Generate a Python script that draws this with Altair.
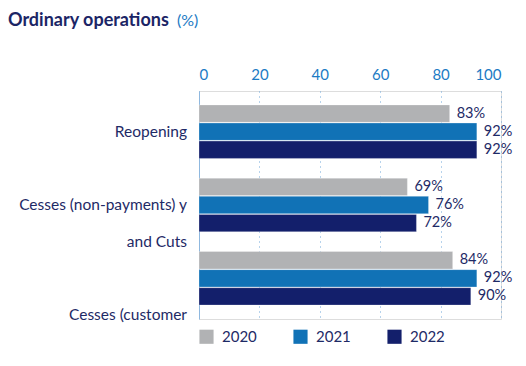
import altair as alt
import pandas as pd

categories = ["Reopening", "Cesses (non-payments) y and Cuts", "Cesses (customer"]
years = ["2020", "2021", "2022"]
values_2020 = [83, 69, 84]
values_2021 = [92, 76, 92]
values_2022 = [92, 72, 90]
label_line1 = ["Reopening", "Cesses (non-payments) y", ""]
label_line2 = ["", "and Cuts", "Cesses (customer"]
x_ticks = [0, 20, 40, 60, 80, 100]

colors = ["#b1b2b4", "#1172b6", "#131f6b"]
NAVY = "#1e2a66"
BLUE = "#1c7bc4"
FONT = "Lato"

rows = []
for yr, vals in zip(years, [values_2020, values_2021, values_2022]):
    for c, v in zip(categories, vals):
        rows.append({"cat": c, "year": yr, "value": v, "label": f"{v}%"})
df = pd.DataFrame(rows)

lab1 = pd.DataFrame({"cat": categories, "text": label_line1})
lab2 = pd.DataFrame({"cat": categories, "text": label_line2})

yscale = alt.Scale(domain=categories, paddingInner=0.27, paddingOuter=0.19)
yoff_scale = alt.Scale(domain=years, paddingInner=0.04)

base = alt.Chart(df)

bars = base.mark_bar(stroke="#ffffff", strokeOpacity=0.35, strokeWidth=0.8).encode(
    x=alt.X("value:Q", scale=alt.Scale(domain=[0, 100]),
            axis=alt.Axis(orient="top", values=x_ticks, title=None, grid=True,
                          gridDash=[1, 4], gridColor="#6fa6d8", gridWidth=1,
                          domain=False, ticks=False, labelColor=BLUE,
                          labelFontSize=15, labelFont=FONT, labelPadding=9)),
    y=alt.Y("cat:N", scale=yscale,
            axis=alt.Axis(labels=False, ticks=False, title=None, domain=True,
                          domainColor="#8fb8df", domainWidth=1)),
    yOffset=alt.YOffset("year:N", scale=yoff_scale),
    color=alt.Color("year:N", scale=alt.Scale(domain=years, range=colors),
                    legend=alt.Legend(orient="bottom", direction="horizontal", title=None,
                                      symbolType="square", symbolSize=200,
                                      symbolStrokeWidth=0, labelFontSize=15,
                                      labelFont=FONT, labelColor=NAVY,
                                      columnPadding=36, labelOffset=8, offset=10,
                                      padding=0)),
)

vals = base.mark_text(align="left", baseline="middle", dx=7, fontSize=14.5,
                      font=FONT, color=NAVY).encode(
    x="value:Q",
    y=alt.Y("cat:N", scale=yscale),
    yOffset=alt.YOffset("year:N", scale=yoff_scale),
    text="label:N",
)

cat1 = alt.Chart(lab1).mark_text(align="right", baseline="middle", fontSize=15.5,
                                 font=FONT, color=NAVY).encode(
    x=alt.value(-12), y=alt.Y("cat:N", scale=yscale), text="text:N")
cat2 = alt.Chart(lab2).mark_text(align="right", baseline="middle", fontSize=15.5,
                                 font=FONT, color=NAVY, dy=37).encode(
    x=alt.value(-12), y=alt.Y("cat:N", scale=yscale), text="text:N")

title1 = alt.Chart(pd.DataFrame({"t": ["Ordinary operations"]})).mark_text(
    align="left", baseline="middle", fontSize=18, fontWeight="bold", font=FONT,
    color="#1b2566").encode(x=alt.value(-191), y=alt.value(-70), text="t:N")
title2 = alt.Chart(pd.DataFrame({"t": ["(%)"]})).mark_text(
    align="left", baseline="middle", fontSize=16, font=FONT,
    color=BLUE).encode(x=alt.value(-22), y=alt.value(-70), text="t:N")

chart = alt.layer(bars, vals, cat1, cat2, title1, title2).properties(
    width=302, height=228, padding={"top": 4, "left": 0, "right": 0, "bottom": 0}
).configure_view(stroke=None).configure(background="white")

chart.save("out.html", embed_options={"renderer": "svg", "actions": False})
